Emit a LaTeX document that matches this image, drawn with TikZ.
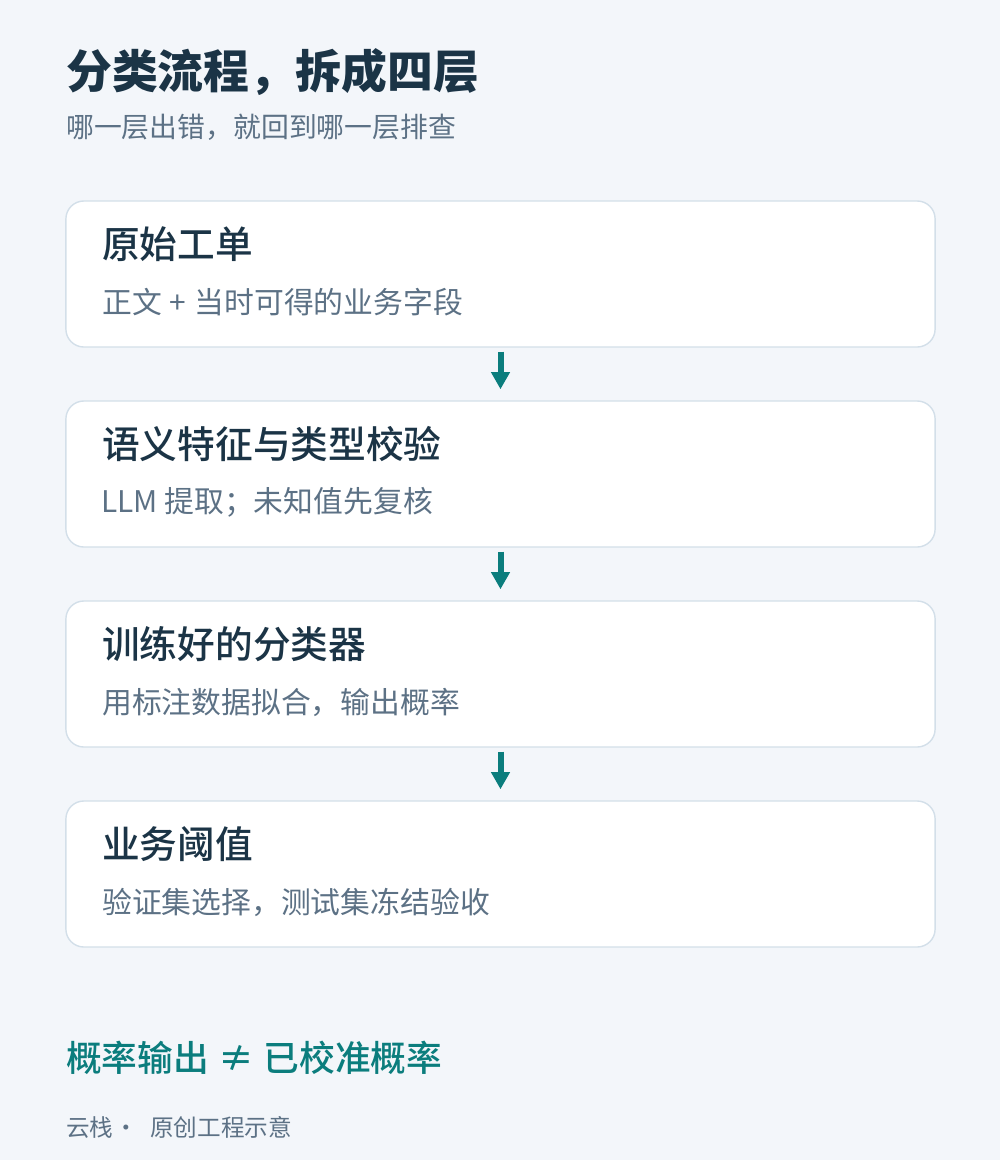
\documentclass[tikz,border=0pt]{standalone}
\usepackage{fontspec}
\setmainfont{Noto Sans CJK SC}
\newfontfamily\cjkmed{Noto Sans CJK SC Medium}
\usetikzlibrary{arrows.meta}

\definecolor{pagebg}{HTML}{F3F6FA}
\definecolor{cardline}{HTML}{D3DFE9}
\definecolor{ink}{HTML}{1B3446}
\definecolor{muted}{HTML}{5C7185}
\definecolor{tealink}{HTML}{0B7D7D}

\begin{document}
\begin{tikzpicture}[x=0.025cm,y=-0.025cm,
  card/.style={draw=cardline, line width=1pt, fill=white, rounded corners=0.45cm,
    minimum width=21.725cm, minimum height=3.65cm},
  head/.style={anchor=west, inner sep=0pt, text=ink, font=\cjkmed\fontsize{26.8}{30}\selectfont},
  note/.style={anchor=west, inner sep=0pt, text=muted, font=\fontsize{21.2}{24}\selectfont},
  flow/.style={draw=tealink, line width=0.15cm, -{Triangle[width=0.45cm,length=0.43cm]},
    shorten <=0.1cm, shorten >=0.275cm}]

  % Page
  \fill[pagebg] (0,0) rectangle (1000,1160);
  \useasboundingbox (0,0) rectangle (1000,1160);

  % Heading
  \node[anchor=west, inner sep=0pt, text=ink, font=\bfseries\fontsize{32.6}{36}\selectfont]
    (title) at (66,72) {分类流程，拆成四层};
  \node[anchor=west, inner sep=0pt, text=muted, font=\fontsize{19.8}{24}\selectfont]
    (subtitle) at (66,127) {哪一层出错，就回到哪一层排查};

  % Four layers
  \node[card] (raw) at (500.5,274) {};
  \node[card] (feat) at (500.5,474) {};
  \node[card] (clf) at (500.5,674) {};
  \node[card] (thr) at (500.5,874) {};

  \node[head] (rawhead) at (102,244) {原始工单};
  \node[note] (rawnote) at (102,302) {正文\ \kern1pt+\ \kern1pt当时可得的业务字段};
  \node[head] (feathead) at (102,444) {语义特征与类型校验};
  \node[note] (featnote) at (101,502) {LLM\ 提取；未知值先复核};
  \node[head] (clfhead) at (102,644) {训练好的分类器};
  \node[note] (clfnote) at (102,702) {用标注数据拟合，输出概率};
  \node[head] (thrhead) at (102,844) {业务阈值};
  \node[note] (thrnote) at (102,902) {验证集选择，测试集冻结验收};

  % Arrows between layers
  \draw[flow] (raw.south) -- (feat.north);
  \draw[flow] (feat.south) -- (clf.north);
  \draw[flow] (clf.south) -- (thr.north);

  % Footer
  \node[anchor=west, inner sep=0pt, text=tealink, font=\cjkmed\fontsize{25.4}{30}\selectfont]
    (warn) at (66,1058) {概率输出\ \kern1pt≠\ \kern1pt已校准概率};
  \node[anchor=west, inner sep=0pt, text=muted, font=\fontsize{16.8}{20}\selectfont]
    (credit) at (66,1127) {云栈\kern-3pt\ ·\ \ \kern1pt原创工程示意};

\end{tikzpicture}
\end{document}
